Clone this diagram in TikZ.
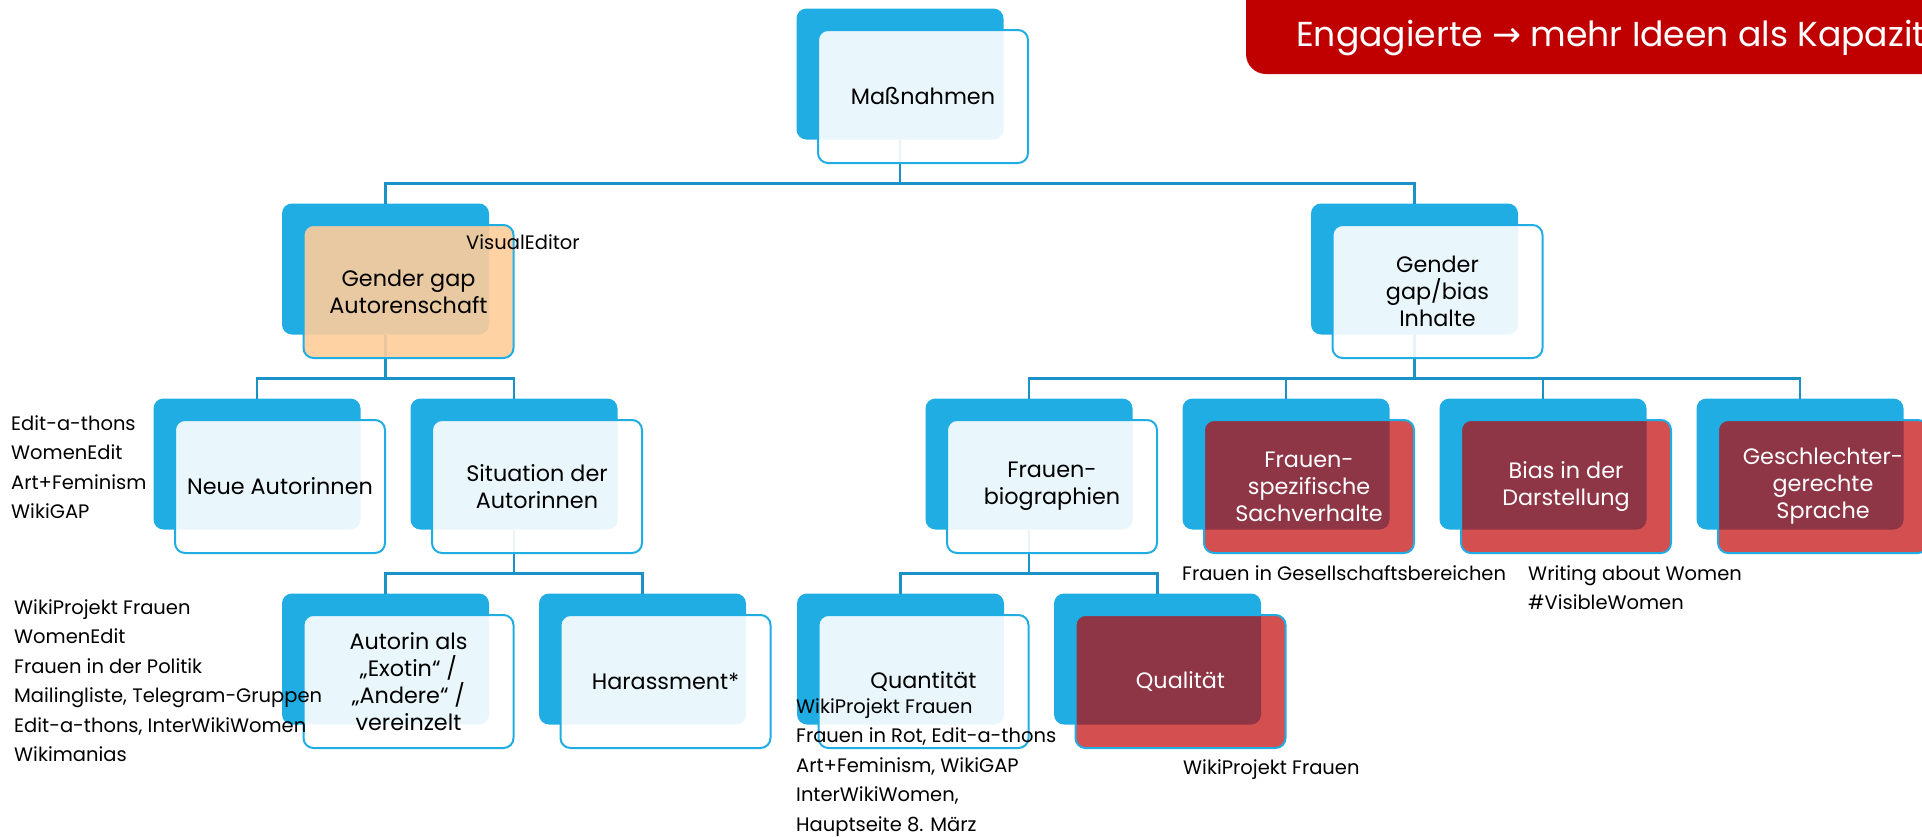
\documentclass[tikz,border=0pt]{standalone}
\usepackage{fontspec}
\setmainfont{Poppins}
\newfontfamily\arrowfont{DejaVu Sans}
\definecolor{boxblue}{RGB}{31,173,227}
\definecolor{linkblue}{RGB}{27,146,199}
\definecolor{softorange}{RGB}{255,205,154}
\definecolor{alarmred}{RGB}{192,0,0}

\begin{document}
\begin{tikzpicture}
  [x=1pt, y=-1pt, level distance = 195pt,
   level 1/.style={sibling distance = 1029pt},
   level 2/.style={sibling distance = 257pt},
   level 3/.style={sibling distance = 257pt},
   back/.style={fill=boxblue, rounded corners=10pt, minimum width=207pt, minimum height=131pt, inner sep=0pt, outer sep=0pt},
   every child node/.style={back},
   edge from parent/.style={draw=linkblue, line width=2.3pt},
   edge from parent path={(\tikzparentnode.south) -- ++(0,-44pt) -| (\tikzchildnode.north)},
   front/.style={draw=boxblue, line width=2pt, rounded corners=10pt, fill=white, fill opacity=0.9, text opacity=1,
                 minimum width=210pt, minimum height=133pt, align=center, font=\fontsize{22.3}{27}\selectfont},
   warm/.style={front, fill=softorange},
   hot/.style={front, fill=alarmred, fill opacity=0.69, text=white},
   note/.style={anchor=base west, align=left, inner sep=0pt, font=\fontsize{19.5}{29.5}\selectfont}]
  \useasboundingbox (0,0) rectangle (1922,836);
  \clip (0,0) rectangle (1922,836);

  \fill[alarmred, rounded corners=20pt] (1246,-40) rectangle (1990,74);
  \node[anchor=base west, inner sep=0pt, text=white, font=\fontsize{34.6}{40}\selectfont] (motto) at (1296,46)
    {Engagierte {\arrowfont →} mehr Ideen als Kapazit};

  \node[back] (mass) at (900,74) {}
     child {node (gga) {}
       child {node (neu) {}}
       child {node (sit) {}
          child {node (exo) {}}
          child {node (har) {}}}
     }
     child {node (ggi) {}
       child {node (bio) {}
          child {node (quan) {}}
          child {node (qual) {}}}
       child {node (spez) {}}
       child {node (bias) {}}
       child {node (spr) {}}
     };

  \node[front] (mass-t) at ([shift={(23pt,-22.5pt)}]mass.center) {Maßnahmen};
  \node[warm]  (gga-t)  at ([shift={(23pt,-22.5pt)}]gga.center)  {Gender gap\\Autorenschaft};
  \node[front] (ggi-t)  at ([shift={(23pt,-22.5pt)}]ggi.center)  {Gender\\gap/bias\\Inhalte};
  \node[front] (neu-t)  at ([shift={(23pt,-22.5pt)}]neu.center)  {Neue Autorinnen};
  \node[front] (sit-t)  at ([shift={(23pt,-22.5pt)}]sit.center)  {Situation der\\Autorinnen};
  \node[front] (exo-t)  at ([shift={(23pt,-22.5pt)}]exo.center)  {Autorin als\\„Exotin“ /\\„Andere“ /\\vereinzelt};
  \node[front] (har-t)  at ([shift={(23pt,-22.5pt)}]har.center)  {Harassment*};
  \node[front] (bio-t)  at ([shift={(23pt,-22.5pt)}]bio.center)  {Frauen-\\biographien};
  \node[front] (quan-t) at ([shift={(23pt,-22.5pt)}]quan.center) {Quantität};
  \node[hot]   (qual-t) at ([shift={(23pt,-22.5pt)}]qual.center) {Qualität};
  \node[hot]   (spez-t) at ([shift={(23pt,-22.5pt)}]spez.center) {Frauen-\\spezifische\\Sachverhalte};
  \node[hot]   (bias-t) at ([shift={(23pt,-22.5pt)}]bias.center) {Bias in der\\Darstellung};
  \node[hot]   (spr-t)  at ([shift={(23pt,-22.5pt)}]spr.center)  {Geschlechter-\\gerechte\\Sprache};

  \node[note] (gga-n)  at (466,249)   {VisualEditor};
  \node[note] (neu-n)  at (11,518.5)  {Edit-a-thons\\WomenEdit\\Art+Feminism\\WikiGAP};
  \node[note] (exo-n)  at (14,761.5)  {WikiProjekt Frauen\\WomenEdit\\Frauen in der Politik\\Mailingliste, Telegram-Gruppen\\Edit-a-thons, InterWikiWomen\\Wikimanias};
  \node[note] (quan-n) at (796,831)   {WikiProjekt Frauen\\Frauen in Rot, Edit-a-thons\\Art+Feminism, WikiGAP\\InterWikiWomen,\\Hauptseite 8. März};
  \node[note] (qual-n) at (1183,774)  {WikiProjekt Frauen};
  \node[note] (spez-n) at (1182,580)  {Frauen in Gesellschaftsbereichen};
  \node[note] (bias-n) at (1528,609.5) {Writing about Women\\\#VisibleWomen};
\end{tikzpicture}
\end{document}
